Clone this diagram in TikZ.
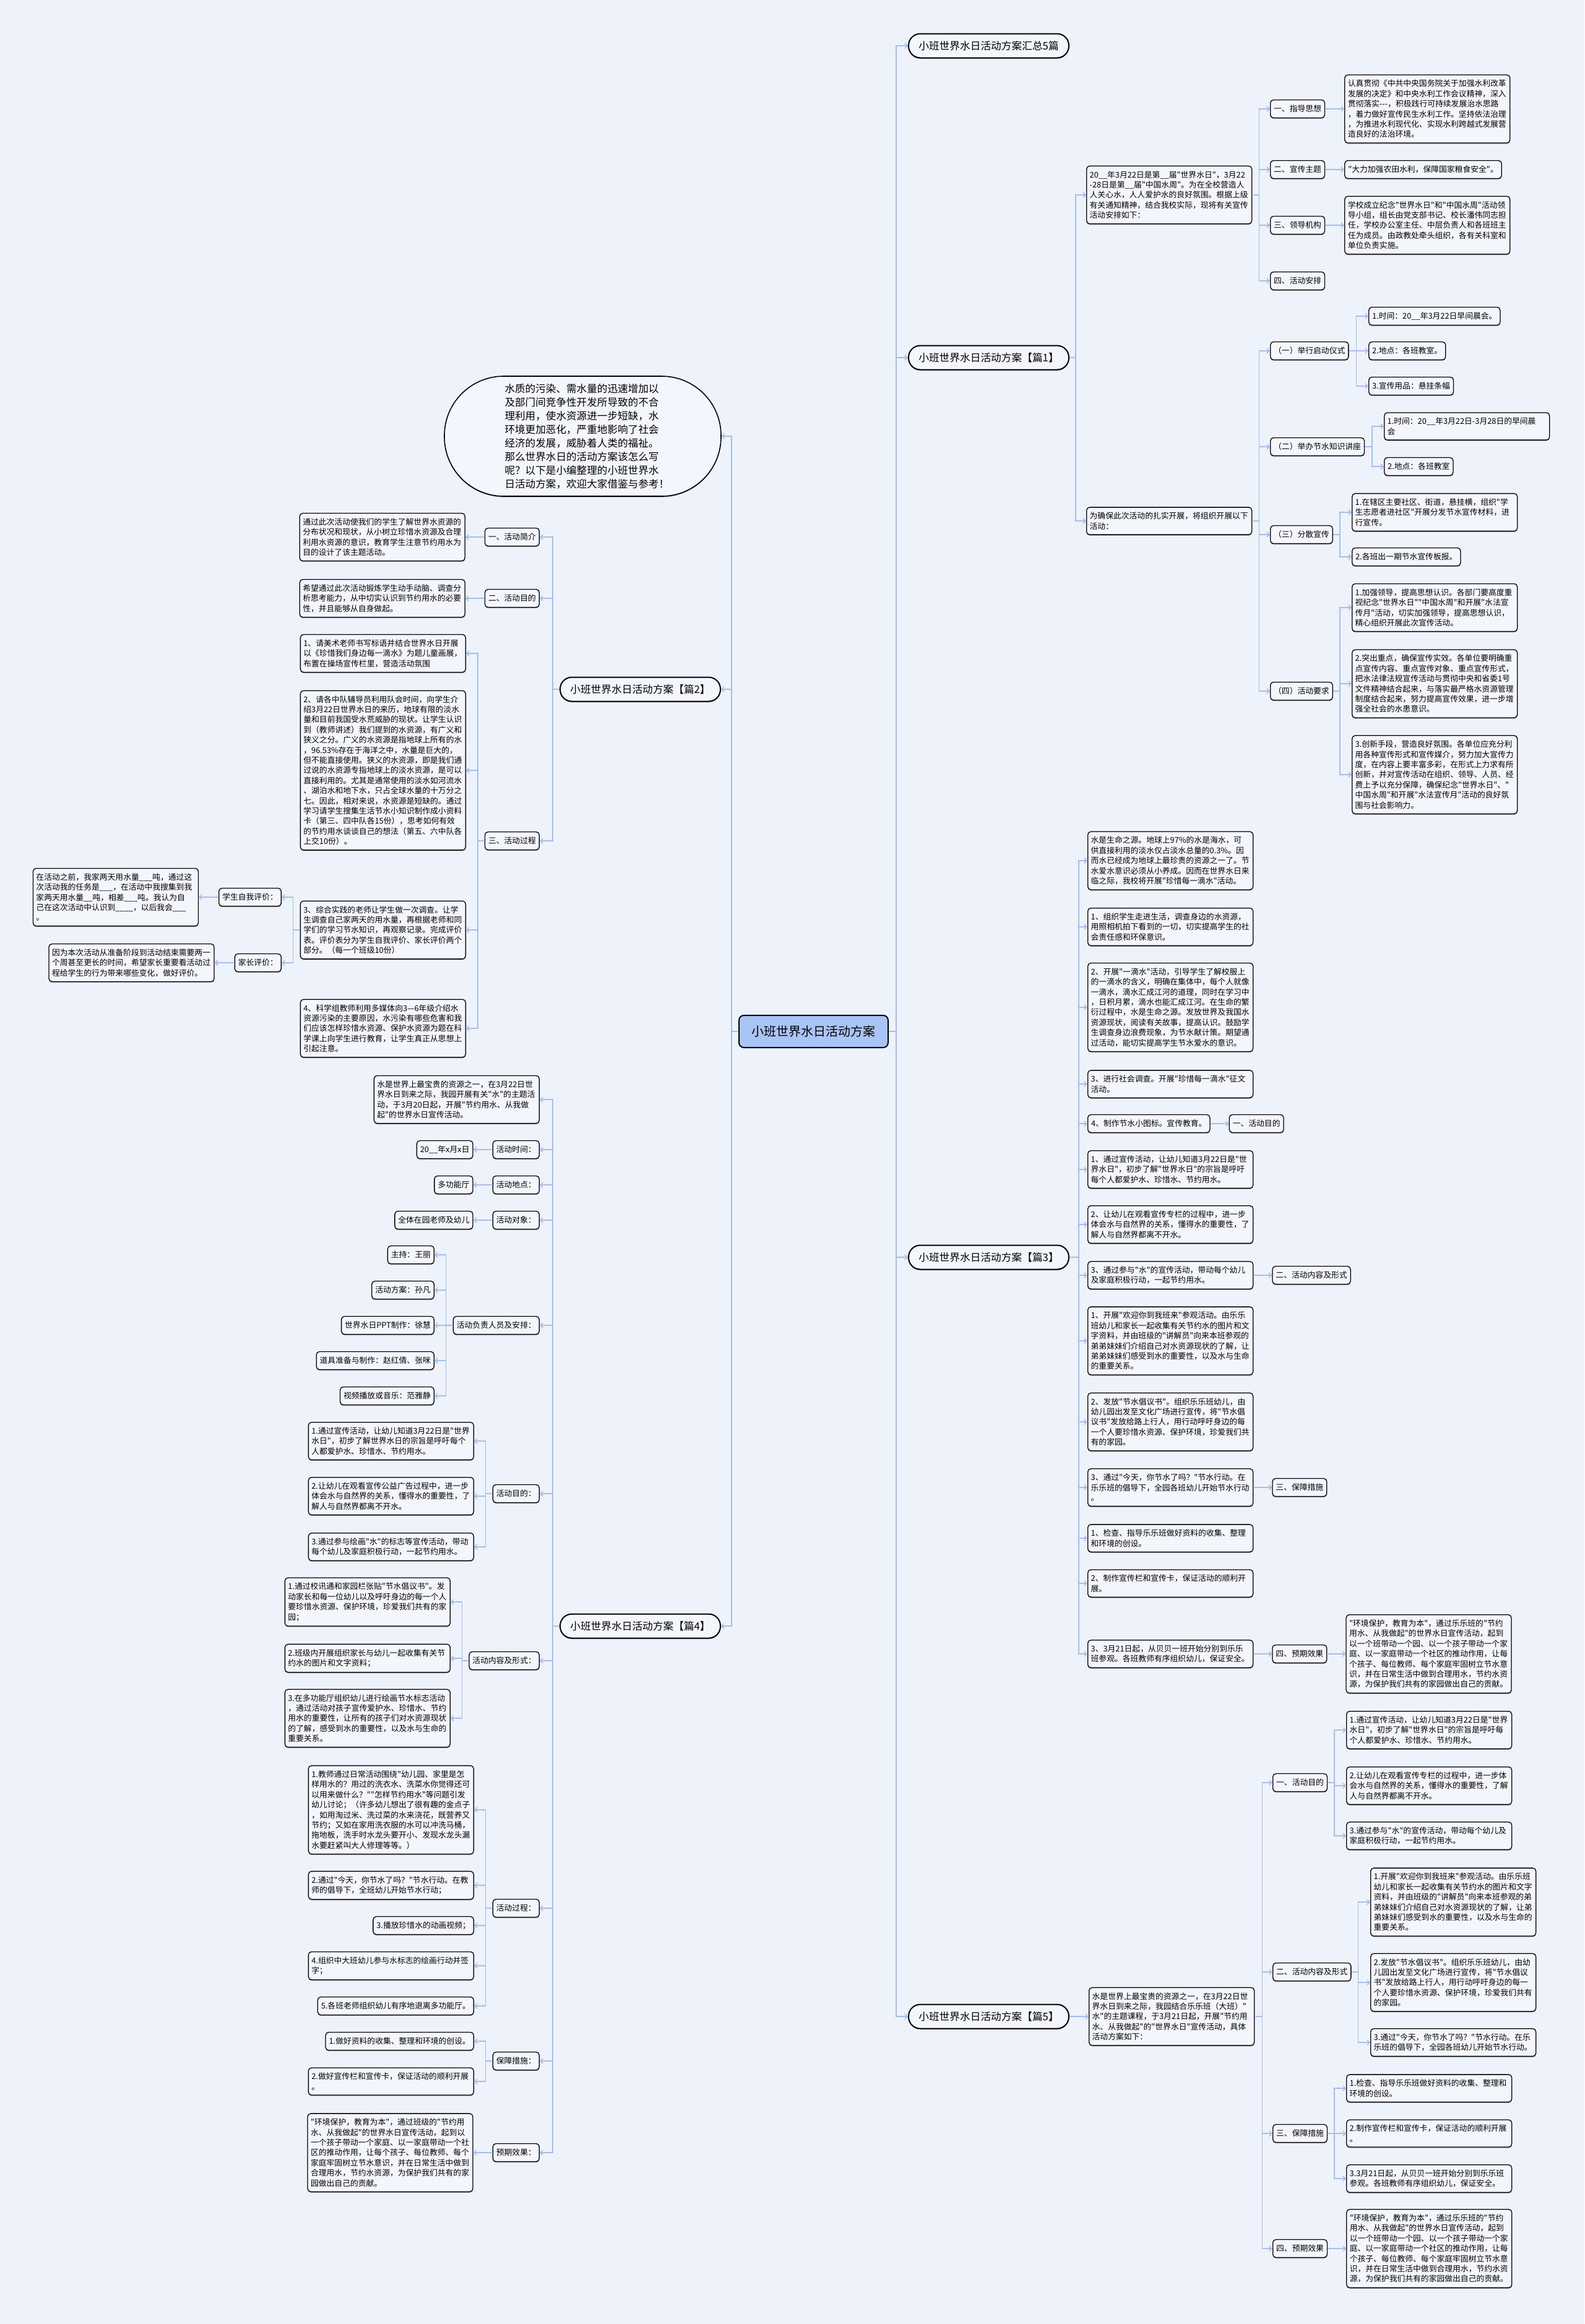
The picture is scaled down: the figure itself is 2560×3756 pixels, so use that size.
\documentclass[tikz,border=0pt]{standalone}
\usepackage{fontspec}
\setmainfont{Noto Sans CJK SC}[Ligatures=TeXOff]
\usetikzlibrary{positioning,arrows.meta,shadows}
\definecolor{bgcol}{HTML}{EEF2FB}
\definecolor{boxfill}{HTML}{F3F6FD}
\definecolor{linkcol}{HTML}{A3BEEA}
\definecolor{rootfill}{HTML}{A9C5F6}
\begin{document}
\begin{tikzpicture}[x=1pt, y=-1pt,
  box/.style={draw, line width=1.3pt, rounded corners=5pt, fill=boxfill, drop shadow={shadow xshift=0pt, shadow yshift=-1.6pt, opacity=0.35, fill=black}},
  leaf/.style={box, text width=257pt, align=left, inner xsep=5pt, inner ysep=8pt, font=\fontsize{12.8}{16.4}\selectfont},
  tag/.style={box, align=left, inner xsep=5.5pt, inner ysep=4pt, minimum height=29pt, font=\fontsize{12.8}{16.4}\selectfont},
  branch/.style={box, line width=2pt, rounded corners=19pt, minimum width=259pt, minimum height=39pt, font=\fontsize{16.7}{20}\selectfont},
  bubble/.style={box, line width=1.6pt, rounded corners=96pt, minimum width=447pt, minimum height=194pt, text width=252pt, align=left, font=\fontsize{16.6}{22}\selectfont},
  topic/.style={draw, line width=2pt, rounded corners=8pt, fill=rootfill, minimum width=241pt, minimum height=52pt, font=\fontsize{20}{24}\selectfont},
  link/.style={draw=linkcol, line width=1.5pt, -{Straight Barb[length=4pt,width=8pt]}}
]
\fill[bgcol] (0,0) rectangle (2560,3756);
\useasboundingbox (0,0) rectangle (2560,3756);

\node[topic] (root) at (1314.5,1667) {小班世界水日活动方案};

\node[bubble] (intro) at (941.5,705) {水质的污染、需水量的迅速增加以\\及部门间竞争性开发所导致的不合\\理利用，使水资源进一步短缺，水\\环境更加恶化，严重地影响了社会\\经济的发展，威胁着人类的福祉。\\那么世界水日的活动方案该怎么写\\呢？以下是小编整理的小班世界水\\日活动方案，欢迎大家借鉴与参考！};

\node[branch, anchor=east] (L2) at (1165,1114) {小班世界水日活动方案【篇2】};
\node[tag, anchor=east] (L2a) at (872,868) {一、活动简介};
\node[leaf, left=31pt of L2a] (L2a1) {通过此次活动使我们的学生了解世界水资源的\\分布状况和现状，从小树立珍惜水资源及合理\\利用水资源的意识，教育学生注意节约用水为\\目的设计了该主题活动。};
\node[tag, anchor=east] (L2b) at (872,967) {二、活动目的};
\node[leaf, left=31pt of L2b] (L2b1) {希望通过此次活动锻炼学生动手动脑、调查分\\析思考能力，从中切实认识到节约用水的必要\\性，并且能够从自身做起。};
\node[tag, anchor=east] (L2c) at (872,1359) {三、活动过程};
\node[leaf, anchor=east] (L2c1) at (753,1056) {1、请美术老师书写标语并结合世界水日开展\\以《珍惜我们身边每一滴水》为题儿童画展，\\布置在操场宣传栏里，营造活动氛围};
\node[leaf, anchor=east] (L2c2) at (753,1245) {2、请各中队辅导员利用队会时间，向学生介\\绍3月22日世界水日的来历，地球有限的淡水\\量和目前我国受水荒威胁的现状。让学生认识\\到（教师讲述）我们提到的水资源，有广义和\\狭义之分。广义的水资源是指地球上所有的水\\，96.53\%存在于海洋之中，水量是巨大的，\\但不能直接使用。狭义的水资源，即是我们通\\过说的水资源专指地球上的淡水资源，是可以\\直接利用的。尤其是通常使用的淡水如河流水\\、湖泊水和地下水，只占全球水量的十万分之\\七。因此，相对来说，水资源是短缺的。通过\\学习请学生搜集生活节水小知识制作成小资料\\卡（第三、四中队各15份），思考如何有效\\的节约用水谈谈自己的想法（第五、六中队各\\上交10份）。};
\node[leaf, anchor=east] (L2c3) at (753,1503) {3、综合实践的老师让学生做一次调查。让学\\生调查自己家两天的用水量，再根据老师和同\\学们的学习节水知识，再观察记录。完成评价\\表。评价表分为学生自我评价、家长评价两个\\部分。（每一个班级10份）};
\node[tag, anchor=east] (L2c3a) at (455,1450) {学生自我评价：};
\node[leaf, left=32pt of L2c3a] (L2c3a1) {在活动之前，我家两天用水量\_\_\_吨，通过这\\次活动我的任务是\_\_\_，在活动中我搜集到我\\家两天用水量\_\_吨，相差\_\_\_吨。我认为自\\己在这次活动中认识到\_\_\_\_，以后我会\_\_\_\\。};
\node[tag, anchor=east] (L2c3b) at (455,1556) {家长评价：};
\node[leaf, left=32pt of L2c3b] (L2c3b1) {因为本次活动从准备阶段到活动结束需要两一\\个周甚至更长的时间，希望家长重要看活动过\\程给学生的行为带来哪些变化，做好评价。};
\node[leaf, anchor=east] (L2c4) at (753,1662) {4、科学组教师利用多媒体向3—6年级介绍水\\资源污染的主要原因，水污染有哪些危害和我\\们应该怎样珍惜水资源、保护水资源为题在科\\学课上向学生进行教育，让学生真正从思想上\\引起注意。};

\node[branch, anchor=east] (L4) at (1165,2628) {小班世界水日活动方案【篇4】};
\node[leaf, anchor=east] (L4a) at (872,1777) {水是世界上最宝贵的资源之一，在3月22日世\\界水日到来之际，我园开展有关"水"的主题活\\动，于3月20日起，开展"节约用水、从我做\\起"的世界水日宣传活动。};
\node[tag, anchor=east] (L4b) at (872,1858) {活动时间：};
\node[tag, left=31pt of L4b] (L4b1) {20\_\_年x月x日};
\node[tag, anchor=east] (L4c) at (872,1915) {活动地点：};
\node[tag, left=31pt of L4c] (L4c1) {多功能厅};
\node[tag, anchor=east] (L4d) at (872,1972) {活动对象：};
\node[tag, left=31pt of L4d] (L4d1) {全体在园老师及幼儿};
\node[tag, anchor=east] (L4e) at (872,2142) {活动负责人员及安排：};
\node[tag, anchor=east] (L4e1) at (702,2028) {主持：王丽};
\node[tag, anchor=east] (L4e2) at (702,2085) {活动方案：孙凡};
\node[tag, anchor=east] (L4e3) at (702,2142) {世界水日PPT制作：徐慧};
\node[tag, anchor=east] (L4e4) at (702,2199) {道具准备与制作：赵红倩、张咪};
\node[tag, anchor=east] (L4e5) at (702,2256) {视频播放或音乐：范雅静};
\node[tag, anchor=east] (L4f) at (872,2414) {活动目的：};
\node[leaf, anchor=east] (L4f1) at (766,2329) {1.通过宣传活动，让幼儿知道3月22日是"世界\\水日"，初步了解世界水日的宗旨是呼吁每个\\人都爱护水、珍惜水、节约用水。};
\node[leaf, anchor=east] (L4f2) at (766,2418) {2.让幼儿在观看宣传公益广告过程中，进一步\\体会水与自然界的关系，懂得水的重要性，了\\解人与自然界都离不开水。};
\node[leaf, anchor=east] (L4f3) at (766,2500) {3.通过参与绘画"水"的标志等宣传活动，带动\\每个幼儿及家庭积极行动，一起节约用水。};
\node[tag, anchor=east] (L4g) at (872,2684) {活动内容及形式：};
\node[leaf, anchor=east] (L4g1) at (728,2589) {1.通过校讯通和家园栏张贴"节水倡议书"。发\\动家长和每一位幼儿以及呼吁身边的每一个人\\要珍惜水资源、保护环境，珍爱我们共有的家\\园；};
\node[leaf, anchor=east] (L4g2) at (728,2680) {2.班级内开展组织家长与幼儿一起收集有关节\\约水的图片和文字资料；};
\node[leaf, anchor=east] (L4g3) at (728,2777) {3.在多功能厅组织幼儿进行绘画节水标志活动\\，通过活动对孩子宣传爱护水、珍惜水、节约\\用水的重要性，让所有的孩子们对水资源现状\\的了解，感受到水的重要性，以及水与生命的\\重要关系。};
\node[tag, anchor=east] (L4h) at (872,3084) {活动过程：};
\node[leaf, anchor=east] (L4h1) at (766,2925) {1.教师通过日常活动围绕"幼儿园、家里是怎\\样用水的？用过的洗衣水、洗菜水你觉得还可\\以用来做什么？""怎样节约用水"等问题引发\\幼儿讨论；（许多幼儿想出了很有趣的金点子\\，如用淘过米、洗过菜的水来浇花，既营养又\\节约；又如在家用洗衣服的水可以冲洗马桶，\\拖地板，洗手时水龙头要开小、发现水龙头漏\\水要赶紧叫大人修理等等。）};
\node[leaf, anchor=east] (L4h2) at (766,3047) {2.通过"今天，你节水了吗？"节水行动。在教\\师的倡导下，全班幼儿开始节水行动；};
\node[tag, anchor=east] (L4h3) at (766,3112) {3.播放珍惜水的动画视频；};
\node[leaf, anchor=east] (L4h4) at (766,3177) {4.组织中大班幼儿参与水标志的绘画行动并签\\字；};
\node[tag, anchor=east] (L4h5) at (766,3242) {5.各班老师组织幼儿有序地退离多功能厅。};
\node[tag, anchor=east] (L4i) at (872,3331) {保障措施：};
\node[tag, anchor=east] (L4i1) at (766,3299) {1.做好资料的收集、整理和环境的创设。};
\node[leaf, anchor=east] (L4i2) at (766,3364) {2.做好宣传栏和宣传卡，保证活动的顺利开展\\。};
\node[tag, anchor=east] (L4j) at (872,3479) {预期效果：};
\node[leaf, left=31pt of L4j] (L4j1) {"环境保护，教育为本"，通过班级的"节约用\\水、从我做起"的世界水日宣传活动，起到以\\一个孩子带动一个家庭、以一家庭带动一个社\\区的推动作用，让每个孩子、每位教师、每个\\家庭牢固树立节水意识，并在日常生活中做到\\合理用水，节约水资源，为保护我们共有的家\\园做出自己的贡献。};

\node[branch, anchor=west] (R0) at (1467,74) {小班世界水日活动方案汇总5篇};

\node[branch, anchor=west] (R1) at (1467,578) {小班世界水日活动方案【篇1】};
\node[leaf, anchor=west] (R1a) at (1755,315) {20\_\_年3月22日是第\_\_届"世界水日"，3月22\\-28日是第\_\_届"中国水周"。为在全校营造人\\人关心水，人人爱护水的良好氛围。根据上级\\有关通知精神，结合我校实际，现将有关宣传\\活动安排如下：};
\node[tag, anchor=west] (R1a1) at (2052,176) {一、指导思想};
\node[leaf, right=31pt of R1a1] (R1a1x) {认真贯彻《中共中央国务院关于加强水利改革\\发展的决定》和中央水利工作会议精神，深入\\贯彻落实---，积极践行可持续发展治水思路\\，着力做好宣传民生水利工作。坚持依法治理\\，为推进水利现代化、实现水利跨越式发展营\\造良好的法治环境。};
\node[tag, anchor=west] (R1a2) at (2052,274) {二、宣传主题};
\node[tag, right=31pt of R1a2] (R1a2x) {"大力加强农田水利，保障国家粮食安全"。};
\node[tag, anchor=west] (R1a3) at (2052,364) {三、领导机构};
\node[leaf, right=31pt of R1a3] (R1a3x) {学校成立纪念"世界水日"和"中国水周"活动领\\导小组，组长由党支部书记、校长潘伟同志担\\任，学校办公室主任、中层负责人和各班班主\\任为成员。由政教处牵头组织，各有关科室和\\单位负责实施。};
\node[tag, anchor=west] (R1a4) at (2052,454) {四、活动安排};
\node[leaf, anchor=west] (R1b) at (1755,842) {为确保此次活动的扎实开展，将组织开展以下\\活动：};
\node[tag, anchor=west] (R1b1) at (2052,567) {（一）举行启动仪式};
\node[tag, anchor=west] (R1b1a) at (2211,511) {1.时间：20\_\_年3月22日早间晨会。};
\node[tag, anchor=west] (R1b1b) at (2211,567) {2.地点：各班教室。};
\node[tag, anchor=west] (R1b1c) at (2211,624) {3.宣传用品：悬挂条幅};
\node[tag, anchor=west] (R1b2) at (2052,722) {（二）举办节水知识讲座};
\node[leaf, anchor=west] (R1b2a) at (2236,689) {1.时间：20\_\_年3月22日-3月28日的早间晨\\会};
\node[tag, anchor=west] (R1b2b) at (2236,754) {2.地点：各班教室};
\node[tag, anchor=west] (R1b3) at (2052,864) {（三）分散宣传};
\node[leaf, anchor=west] (R1b3a) at (2184,828) {1.在辖区主要社区、街道，悬挂横，组织"学\\生志愿者进社区"开展分发节水宣传材料，进\\行宣传。};
\node[tag, anchor=west] (R1b3b) at (2184,900) {2.各班出一期节水宣传板报。};
\node[tag, anchor=west] (R1b4) at (2052,1117) {（四）活动要求};
\node[leaf, anchor=west] (R1b4a) at (2184,982) {1.加强领导，提高思想认识。各部门要高度重\\视纪念"世界水日""中国水周"和开展"水法宣\\传月"活动，切实加强领导，提高思想认识，\\精心组织开展此次宣传活动。};
\node[leaf, anchor=west] (R1b4b) at (2184,1105) {2.突出重点，确保宣传实效。各单位要明确重\\点宣传内容、重点宣传对象、重点宣传形式，\\把水法律法规宣传活动与贯彻中央和省委1号\\文件精神结合起来，与落实最严格水资源管理\\制度结合起来，努力提高宣传效果，进一步增\\强全社会的水患意识。};
\node[leaf, anchor=west] (R1b4c) at (2184,1252) {3.创新手段，营造良好氛围。各单位应充分利\\用各种宣传形式和宣传媒介，努力加大宣传力\\度，在内容上要丰富多彩，在形式上力求有所\\创新，并对宣传活动在组织、领导、人员、经\\费上予以充分保障，确保纪念"世界水日"、"\\中国水周"和开展"水法宣传月"活动的良好氛\\围与社会影响力。};

\node[branch, anchor=west] (R3) at (1467,2032) {小班世界水日活动方案【篇3】};
\node[leaf, anchor=west] (R3a) at (1757,1391) {水是生命之源。地球上97\%的水是海水，可\\供直接利用的淡水仅占淡水总量的0.3\%。因\\而水已经成为地球上最珍贵的资源之一了。节\\水爱水意识必须从小养成。因而在世界水日来\\临之际，我校将开展"珍惜每一滴水"活动。};
\node[leaf, anchor=west] (R3b) at (1757,1498) {1、组织学生走进生活，调查身边的水资源，\\用照相机拍下看到的一切，切实提高学生的社\\会责任感和环保意识。};
\node[leaf, anchor=west] (R3c) at (1757,1628) {2、开展"一滴水"活动，引导学生了解校服上\\的一滴水的含义，明确在集体中，每个人就像\\一滴水，滴水汇成江河的道理，同时在学习中\\，日积月累，滴水也能汇成江河。在生命的繁\\衍过程中，水是生命之源。发放世界及我国水\\资源现状，阅读有关故事，提高认识。鼓励学\\生调查身边浪费现象，为节水献计策。期望通\\过活动，能切实提高学生节水爱水的意识。};
\node[leaf, anchor=west] (R3d) at (1757,1752) {3、进行社会调查。开展"珍惜每一滴水"征文\\活动。};
\node[tag, anchor=west] (R3e) at (1757,1816) {4、制作节水小图标。宣传教育。};
\node[tag, right=30pt of R3e] (R3e1) {一、活动目的};
\node[leaf, anchor=west] (R3f) at (1757,1890) {1、通过宣传活动，让幼儿知道3月22日是"世\\界水日"，初步了解"世界水日"的宗旨是呼吁\\每个人都爱护水、珍惜水、节约用水。};
\node[leaf, anchor=west] (R3g) at (1757,1979) {2、让幼儿在观看宣传专栏的过程中，进一步\\体会水与自然界的关系，懂得水的重要性，了\\解人与自然界都离不开水。};
\node[leaf, anchor=west] (R3h) at (1757,2061) {3、通过参与"水"的宣传活动，带动每个幼儿\\及家庭积极行动，一起节约用水。};
\node[tag, right=30pt of R3h] (R3h1) {二、活动内容及形式};
\node[leaf, anchor=west] (R3i) at (1757,2167) {1、开展"欢迎你到我班来"参观活动。由乐乐\\班幼儿和家长一起收集有关节约水的图片和文\\字资料，并由班级的"讲解员"向来本班参观的\\弟弟妹妹们介绍自己对水资源现状的了解，让\\弟弟妹妹们感受到水的重要性，以及水与生命\\的重要关系。};
\node[leaf, anchor=west] (R3j) at (1757,2298) {2、发放"节水倡议书"。组织乐乐班幼儿，由\\幼儿园出发至文化广场进行宣传，将"节水倡\\议书"发放给路上行人，用行动呼吁身边的每\\一个人要珍惜水资源、保护环境，珍爱我们共\\有的家园。};
\node[leaf, anchor=west] (R3k) at (1757,2404) {3、通过"今天，你节水了吗？"节水行动。在\\乐乐班的倡导下，全园各班幼儿开始节水行动\\。};
\node[tag, right=30pt of R3k] (R3k1) {三、保障措施};
\node[leaf, anchor=west] (R3l) at (1757,2486) {1、检查、指导乐乐班做好资料的收集、整理\\和环境的创设。};
\node[leaf, anchor=west] (R3m) at (1757,2559) {2、制作宣传栏和宣传卡，保证活动的顺利开\\展。};
\node[leaf, anchor=west] (R3n) at (1757,2673) {3、3月21日起，从贝贝一班开始分别到乐乐\\班参观。各班教师有序组织幼儿，保证安全。};
\node[tag, right=30pt of R3n] (R3n1) {四、预期效果};
\node[leaf, right=30pt of R3n1] (R3n2) {"环境保护，教育为本"，通过乐乐班的"节约\\用水、从我做起"的世界水日宣传活动，起到\\以一个班带动一个园、以一个孩子带动一个家\\庭、以一家庭带动一个社区的推动作用，让每\\个孩子、每位教师、每个家庭牢固树立节水意\\识，并在日常生活中做到合理用水，节约水资\\源，为保护我们共有的家园做出自己的贡献。};

\node[branch, anchor=west] (R5) at (1467,3259) {小班世界水日活动方案【篇5】};
\node[leaf, right=31pt of R5] (R5a) {水是世界上最宝贵的资源之一，在3月22日世\\界水日到来之际，我园结合乐乐班（大班）"\\水"的主题课程，于3月21日起，开展"节约用\\水、从我做起"的"世界水日"宣传活动，具体\\活动方案如下：};
\node[tag, anchor=west] (R5b) at (2056,2881) {一、活动目的};
\node[leaf, anchor=west] (R5b1) at (2175,2796) {1.通过宣传活动，让幼儿知道3月22日是"世界\\水日"，初步了解"世界水日"的宗旨是呼吁每\\个人都爱护水、珍惜水、节约用水。};
\node[leaf, anchor=west] (R5b2) at (2175,2886) {2.让幼儿在观看宣传专栏的过程中，进一步体\\会水与自然界的关系，懂得水的重要性，了解\\人与自然界都离不开水。};
\node[leaf, anchor=west] (R5b3) at (2175,2967) {3.通过参与"水"的宣传活动，带动每个幼儿及\\家庭积极行动，一起节约用水。};
\node[tag, anchor=west] (R5c) at (2056,3187) {二、活动内容及形式};
\node[leaf, anchor=west] (R5c1) at (2214,3074) {1.开展"欢迎你到我班来"参观活动。由乐乐班\\幼儿和家长一起收集有关节约水的图片和文字\\资料，并由班级的"讲解员"向来本班参观的弟\\弟妹妹们介绍自己对水资源现状的了解，让弟\\弟妹妹们感受到水的重要性，以及水与生命的\\重要关系。};
\node[leaf, anchor=west] (R5c2) at (2214,3204) {2.发放"节水倡议书"。组织乐乐班幼儿，由幼\\儿园出发至文化广场进行宣传，将"节水倡议\\书"发放给路上行人，用行动呼吁身边的每一\\个人要珍惜水资源、保护环境，珍爱我们共有\\的家园。};
\node[leaf, anchor=west] (R5c3) at (2214,3301) {3.通过"今天，你节水了吗？"节水行动。在乐\\乐班的倡导下，全园各班幼儿开始节水行动。};
\node[tag, anchor=west] (R5d) at (2056,3448) {三、保障措施};
\node[leaf, anchor=west] (R5d1) at (2175,3375) {1.检查、指导乐乐班做好资料的收集、整理和\\环境的创设。};
\node[leaf, anchor=west] (R5d2) at (2175,3448) {2.制作宣传栏和宣传卡，保证活动的顺利开展\\。};
\node[leaf, anchor=west] (R5d3) at (2175,3521) {3.3月21日起，从贝贝一班开始分别到乐乐班\\参观。各班教师有序组织幼儿，保证安全。};
\node[tag, anchor=west] (R5e) at (2056,3634) {四、预期效果};
\node[leaf, right=30pt of R5e] (R5e1) {"环境保护，教育为本"，通过乐乐班的"节约\\用水、从我做起"的世界水日宣传活动，起到\\以一个班带动一个园、以一个孩子带动一个家\\庭、以一家庭带动一个社区的推动作用，让每\\个孩子、每位教师、每个家庭牢固树立节水意\\识，并在日常生活中做到合理用水，节约水资\\源，为保护我们共有的家园做出自己的贡献。};

\foreach \c in {intro,L2,L4} \draw[link] (root.west) -- ++(-11,0) |- (\c.east);
\foreach \c in {R0,R1,R3,R5} \draw[link] (root.east) -- ++(12,0) |- (\c.west);

\foreach \c in {L2a,L2b,L2c} \draw[link] (L2.west) -- ++(-11,0) |- (\c.east);
\draw[link] (L2a.west) -- (L2a1.east);
\draw[link] (L2b.west) -- (L2b1.east);
\foreach \c in {L2c1,L2c2,L2c3,L2c4} \draw[link] (L2c.west) -- ++(-11,0) |- (\c.east);
\foreach \c in {L2c3a,L2c3b} \draw[link] (L2c3.west) -- ++(-11,0) |- (\c.east);
\draw[link] (L2c3a.west) -- (L2c3a1.east);
\draw[link] (L2c3b.west) -- (L2c3b1.east);

\foreach \c in {L4a,L4b,L4c,L4d,L4e,L4f,L4g,L4h,L4i,L4j} \draw[link] (L4.west) -- ++(-11,0) |- (\c.east);
\foreach \p in {L4b,L4c,L4d,L4j} \draw[link] (\p.west) -- (\p1.east);
\foreach \c in {L4e1,L4e2,L4e3,L4e4,L4e5} \draw[link] (L4e.west) -- ++(-11,0) |- (\c.east);
\foreach \c in {L4f1,L4f2,L4f3} \draw[link] (L4f.west) -- ++(-11,0) |- (\c.east);
\foreach \c in {L4g1,L4g2,L4g3} \draw[link] (L4g.west) -- ++(-11,0) |- (\c.east);
\foreach \c in {L4h1,L4h2,L4h3,L4h4,L4h5} \draw[link] (L4h.west) -- ++(-11,0) |- (\c.east);
\foreach \c in {L4i1,L4i2} \draw[link] (L4i.west) -- ++(-11,0) |- (\c.east);

\foreach \c in {R1a,R1b} \draw[link] (R1.east) -- ++(10,0) |- (\c.west);
\foreach \c in {R1a1,R1a2,R1a3,R1a4} \draw[link] (R1a.east) -- ++(11,0) |- (\c.west);
\foreach \p in {R1a1,R1a2,R1a3} \draw[link] (\p.east) -- (\p x.west);
\foreach \c in {R1b1,R1b2,R1b3,R1b4} \draw[link] (R1b.east) -- ++(11,0) |- (\c.west);
\foreach \c in {R1b1a,R1b1b,R1b1c} \draw[link] (R1b1.east) -- ++(12,0) |- (\c.west);
\foreach \c in {R1b2a,R1b2b} \draw[link] (R1b2.east) -- ++(12,0) |- (\c.west);
\foreach \c in {R1b3a,R1b3b} \draw[link] (R1b3.east) -- ++(11,0) |- (\c.west);
\foreach \c in {R1b4a,R1b4b,R1b4c} \draw[link] (R1b4.east) -- ++(11,0) |- (\c.west);

\foreach \c in {R3a,R3b,R3c,R3d,R3e,R3f,R3g,R3h,R3i,R3j,R3k,R3l,R3m,R3n} \draw[link] (R3.east) -- ++(15,0) |- (\c.west);
\foreach \p in {R3e,R3h,R3k,R3n} \draw[link] (\p.east) -- (\p1.west);
\draw[link] (R3n1.east) -- (R3n2.west);

\draw[link] (R5.east) -- (R5a.west);
\foreach \c in {R5b,R5c,R5d,R5e} \draw[link] (R5a.east) -- ++(12,0) |- (\c.west);
\foreach \c in {R5b1,R5b2,R5b3} \draw[link] (R5b.east) -- ++(11,0) |- (\c.west);
\foreach \c in {R5c1,R5c2,R5c3} \draw[link] (R5c.east) -- ++(11,0) |- (\c.west);
\foreach \c in {R5d1,R5d2,R5d3} \draw[link] (R5d.east) -- ++(11,0) |- (\c.west);
\draw[link] (R5e.east) -- (R5e1.west);
\end{tikzpicture}
\end{document}
